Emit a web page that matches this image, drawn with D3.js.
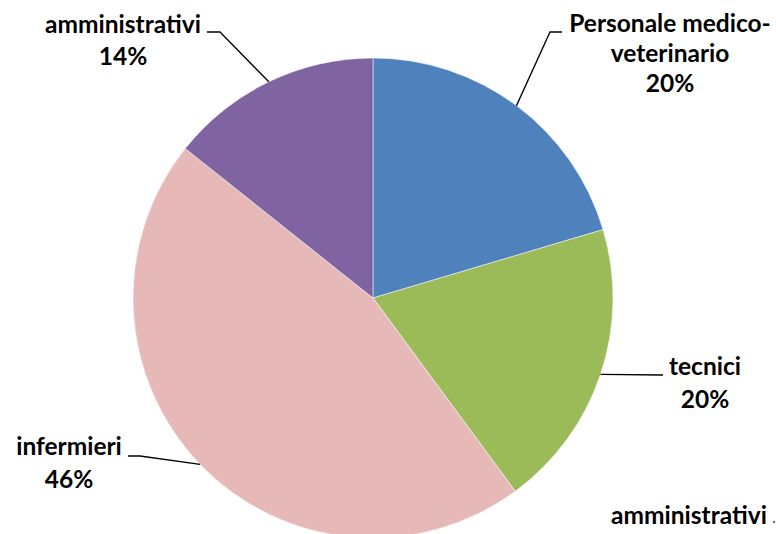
<!DOCTYPE html>
<html><head><meta charset="utf-8">
<script src="https://cdn.jsdelivr.net/npm/d3@7"></script>
<style>html,body{margin:0;padding:0;background:#fff;overflow:hidden}</style>
</head><body>
<svg id="c" width="776" height="534"></svg>
<script>
const categories = ["Personale medico-veterinario", "tecnici", "infermieri", "amministrativi"];
const values = [20.4, 19.5, 45.8, 14.3];
const colors = ["#4F81BD", "#9BBB59", "#E6B9B8", "#8064A2"];
const extraLabel = "amministrativi";

const svg = d3.select("#c");
const cx = 373, cy = 298, r = 240;
const g = svg.append("g").attr("transform", `translate(${cx},${cy})`);
const pie = d3.pie().sort(null).value(d => d)(values);
const arc = d3.arc().innerRadius(0).outerRadius(r);
g.selectAll("path.s").data(pie).enter().append("path")
  .attr("d", arc).attr("fill", (d, i) => colors[i])
  .attr("stroke", "#fff").attr("stroke-opacity", 0.5).attr("stroke-width", 1);

const total = d3.sum(values);
const pct = v => Math.round(v / total * 100) + "%";
const font = "Lato, 'Open Sans', sans-serif";
const fs = 24.5;

const layout = [
  {lines: ["Personale medico-", "veterinario"], x: 670, y: 32, lh: 30, leader: [[550, 32], [562, 32]]},
  {lines: ["tecnici"], x: 705, y: 375, lh: 33, leader: [[663, 375]]},
  {lines: ["infermieri"], x: 69, y: 455, lh: 33, leader: [[140, 456], [128, 456]]},
  {lines: ["amministrativi"], x: 123, y: 33, lh: 32, leader: [[220, 32], [207, 32]]}
];

pie.forEach((d, i) => {
  const L = layout[i];
  const a = (d.startAngle + d.endAngle) / 2;
  const p0 = [cx + r * Math.sin(a), cy - r * Math.cos(a)];
  svg.append("path").attr("d", d3.line()([p0, ...L.leader]))
    .attr("fill", "none").attr("stroke", "#000").attr("stroke-width", 1.3);
  const t = svg.append("text").attr("text-anchor", "middle")
    .attr("font-family", font).attr("font-weight", "bold").attr("font-size", fs).attr("fill", "#000");
  [...L.lines, pct(values[i])].forEach((ln, k) => {
    t.append("tspan").attr("x", L.x).attr("y", L.y + k * L.lh).text(ln);
  });
});

svg.append("text").attr("x", 689).attr("y", 524).attr("text-anchor", "middle")
  .attr("font-family", font).attr("font-weight", "bold").attr("font-size", fs).text(extraLabel);
svg.append("rect").attr("x", 773).attr("y", 521).attr("width", 2).attr("height", 2).attr("fill", "#666");
</script>
</body></html>
